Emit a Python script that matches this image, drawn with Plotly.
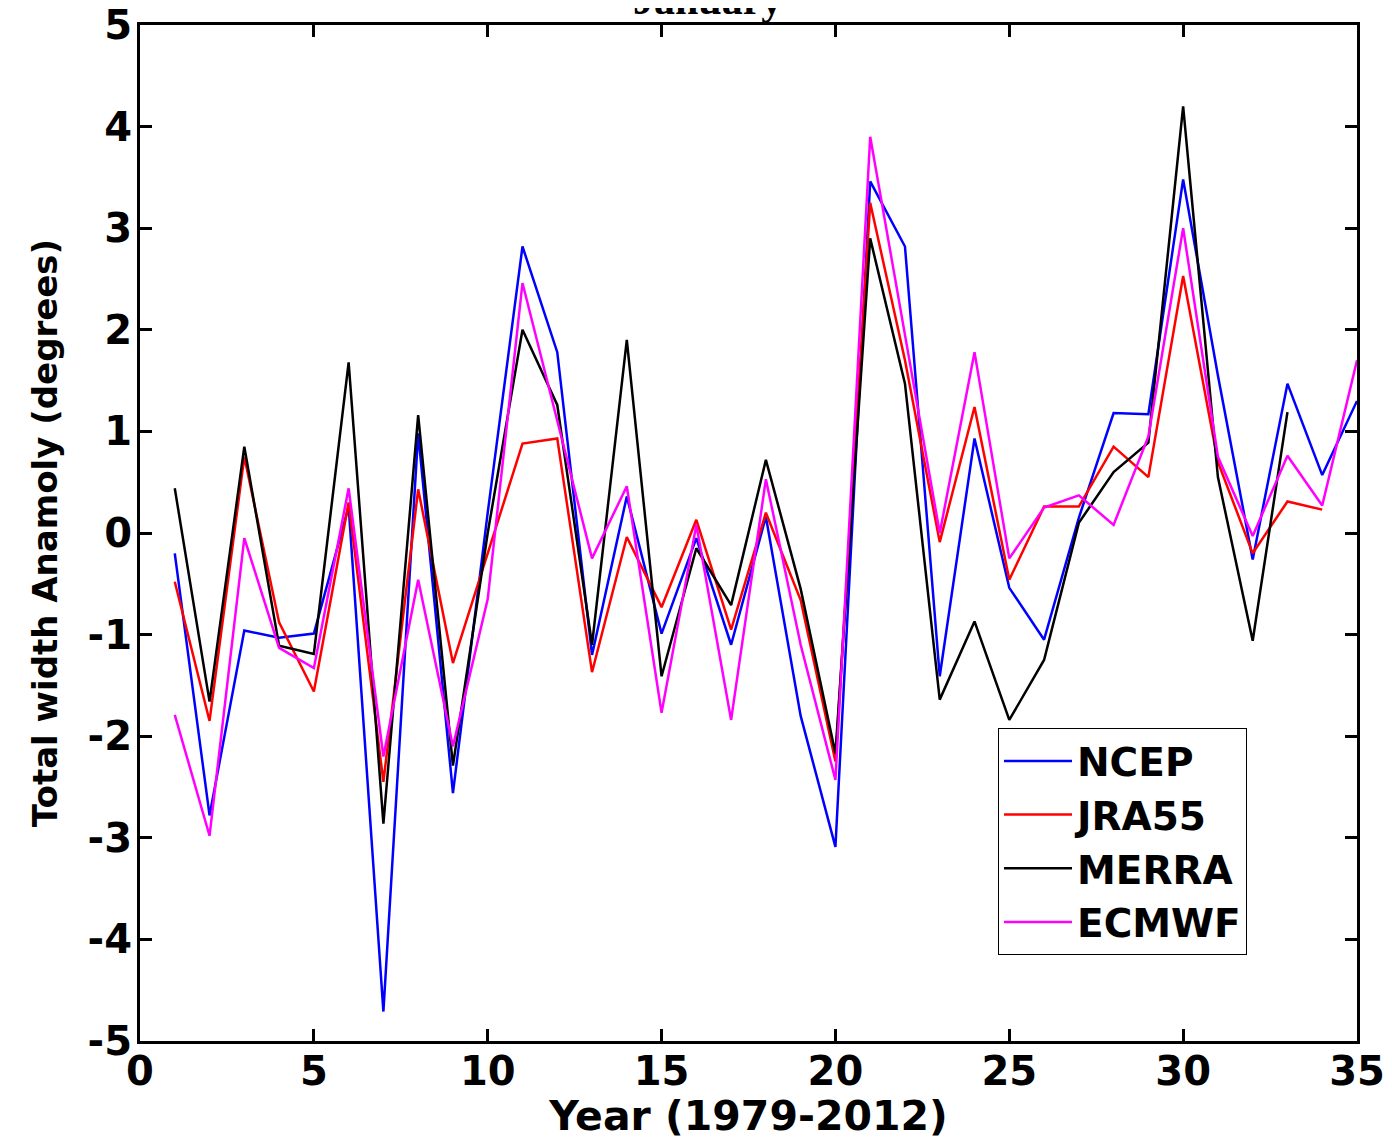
import plotly.graph_objects as go

years_idx = list(range(1, 36))

ncep = [-0.2, -2.78, -0.96, -1.03, -0.99, 0.26, -4.71, 0.98, -2.56, 0.2,
        2.82, 1.78, -1.2, 0.36, -0.99, -0.05, -1.1, 0.16, -1.8, -3.09,
        3.46, 2.82, -1.41, 0.93, -0.54, -1.05, 0.15, 1.18, 1.17, 3.48,
        1.55, -0.26, 1.47, 0.57, 1.3]
jra55 = [-0.48, -1.85, 0.75, -0.88, -1.56, 0.3, -2.45, 0.43, -1.28, -0.19,
         0.88, 0.93, -1.37, -0.04, -0.73, 0.13, -0.95, 0.2, -0.66, -2.25,
         3.25, 1.7, -0.09, 1.24, -0.46, 0.26, 0.26, 0.85, 0.55, 2.53,
         0.7, -0.2, 0.31, 0.23]
merra = [0.44, -1.66, 0.85, -1.11, -1.19, 1.68, -2.86, 1.16, -2.29, 0.0,
         2.0, 1.26, -1.1, 1.9, -1.41, -0.15, -0.71, 0.72, -0.55, -2.17,
         2.9, 1.47, -1.64, -0.87, -1.84, -1.25, 0.1, 0.6, 0.89, 4.2,
         0.55, -1.06, 1.19]
ecmwf = [-1.79, -2.98, -0.05, -1.13, -1.33, 0.44, -2.2, -0.46, -2.1, -0.65,
         2.46, 1.1, -0.25, 0.46, -1.77, 0.08, -1.84, 0.53, -1.1, -2.43,
         3.9, 1.95, 0.0, 1.78, -0.25, 0.25, 0.37, 0.08, 0.95, 3.0,
         0.75, -0.03, 0.76, 0.27, 1.7]

series_names = ["NCEP", "JRA55", "MERRA", "ECMWF"]
series_vals = [ncep, jra55, merra, ecmwf]
series_colors = ["#0000FF", "#FF0000", "#000000", "#FF00FF"]

x_ticks = [0, 5, 10, 15, 20, 25, 30, 35]
y_ticks = [-5, -4, -3, -2, -1, 0, 1, 2, 3, 4, 5]

SANS = "DejaVu Sans, Arial, sans-serif"

fig = go.Figure()
for name, vals, col in zip(series_names, series_vals, series_colors):
    fig.add_trace(go.Scatter(
        x=years_idx[:len(vals)], y=vals, mode="lines", name=name,
        line=dict(color=col, width=2.5),
    ))

tick_font = dict(family=SANS, size=40, color="black", weight="bold")

fig.update_layout(
    width=1384, height=1132,
    margin=dict(l=132, r=35, t=17, b=99, autoexpand=False),
    paper_bgcolor="white", plot_bgcolor="white",
    showlegend=True,
    legend=dict(
        x=0.705, y=0.308, xanchor="left", yanchor="top",
        bgcolor="white", bordercolor="black", borderwidth=1,
        font=dict(family=SANS, size=39, color="black", weight="bold"),
        tracegroupgap=0, itemwidth=68,
    ),
    xaxis=dict(
        range=[0, 35], tickvals=x_ticks, ticktext=[str(v) for v in x_ticks],
        ticks="inside", ticklen=12, tickwidth=3, tickcolor="black",
        showline=True, linecolor="black", linewidth=3, mirror="ticks",
        showgrid=False, zeroline=False, tickfont=tick_font,
        ticklabelstandoff=-7, automargin=False, ticklabeloverflow="allow",
        title=dict(text="Year (1979-2012)", standoff=10,
                   font=dict(family=SANS, size=41, color="black",
                             weight="bold")),
    ),
    yaxis=dict(
        range=[-5, 5], tickvals=y_ticks, ticktext=[str(v) for v in y_ticks],
        ticks="inside", ticklen=12, tickwidth=3, tickcolor="black",
        showline=True, linecolor="black", linewidth=3, mirror="ticks",
        showgrid=False, zeroline=False, tickfont=tick_font,
        ticklabelstandoff=-3, automargin=False, ticklabeloverflow="allow",
        title=dict(text="Total width Anamoly (degrees)", standoff=20,
                   font=dict(family=SANS, size=34, color="black",
                             weight="bold")),
    ),
    annotations=[dict(
        text="January", xref="paper", yref="paper", x=0.466, y=1.0,
        xanchor="center", yanchor="bottom", showarrow=False,
        font=dict(family="Liberation Serif, Times New Roman, serif", size=42,
                  color="black", weight="bold"),
    )],
)

fig.write_html("out.html")
